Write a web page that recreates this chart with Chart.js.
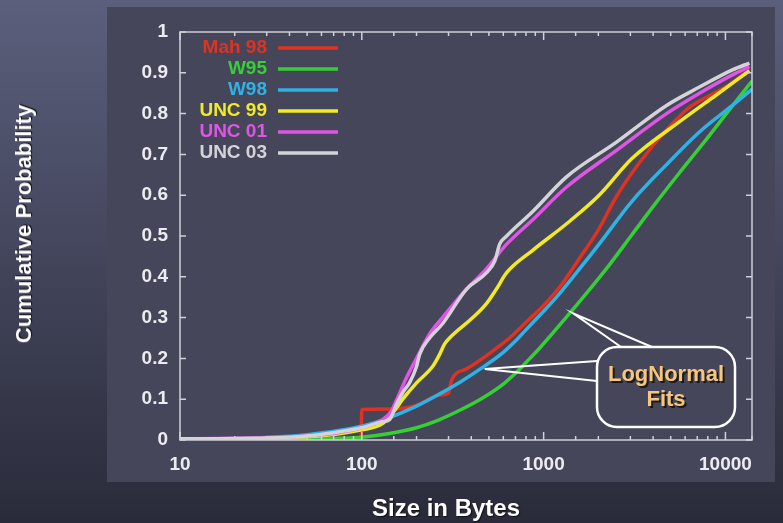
<!DOCTYPE html>
<html>
<head>
<meta charset="utf-8">
<script src="https://cdn.jsdelivr.net/npm/chart.js@4.4.1/dist/chart.umd.min.js"></script>
<style>
  html, body { margin: 0; padding: 0; }
  body {
    width: 783px; height: 523px; overflow: hidden; position: relative;
    background: linear-gradient(#5b5f7c, #2a2b3a);
    font-family: "Liberation Sans", Arial, sans-serif;
  }
  #panel { position: absolute; left: 107px; top: 7px; width: 668px; height: 475px; background: #45465a; }
  #chart { position: absolute; left: 0; top: 0; }
  .title { position: absolute; color: #fff; font-weight: bold; white-space: nowrap; text-shadow: 1px 1px 1px #111; }
  #ytitle { left: 24px; top: 224px; font-size: 22px; transform: translate(-50%, -50%) rotate(-90deg); }
  #xtitle { left: 446px; top: 508px; font-size: 24px; transform: translate(-50%, -50%); }
</style>
</head>
<body>
<div id="panel"></div>
<canvas id="chart" width="783" height="523"></canvas>
<div class="title" id="ytitle">Cumulative Probability</div>
<div class="title" id="xtitle">Size in Bytes</div>
<script>
// series labels and colours (legend order)
const seriesNames = ['Mah 98', 'W95', 'W98', 'UNC 99', 'UNC 01', 'UNC 03'];
const seriesColors = ['#e0321e', '#35d035', '#2fb2e6', '#f2ea22', '#e055e6', '#d4d4d8'];

// file size (bytes) / cumulative probability
const mah98Size = [10, 60, 99, 100, 145, 170, 200, 268, 300, 312, 380, 462, 550, 650, 807, 1000, 1250, 1600, 2000, 2500, 3368, 4742, 6340, 7870, 10000, 13550];
const mah98Prob = [0.002, 0.003, 0.004, 0.075, 0.076, 0.078, 0.085, 0.11, 0.115, 0.147, 0.175, 0.20, 0.225, 0.25, 0.29, 0.33, 0.38, 0.45, 0.515, 0.595, 0.68, 0.76, 0.815, 0.84, 0.865, 0.907];

const w95Size = [10, 50, 76, 100, 142, 200, 268, 350, 462, 600, 709, 800, 950, 1271, 1723, 2306, 3082, 4125, 5590, 7480, 10120, 14000];
const w95Prob = [0.0, 0.001, 0.004, 0.007, 0.016, 0.03, 0.05, 0.074, 0.103, 0.137, 0.166, 0.19, 0.225, 0.29, 0.36, 0.43, 0.505, 0.58, 0.655, 0.725, 0.80, 0.88];

const w98Size = [10, 20, 30, 50, 76, 100, 142, 200, 268, 350, 462, 600, 709, 800, 950, 1178, 1517, 2019, 3060, 4742, 7196, 10920, 14000];
const w98Prob = [0.001, 0.003, 0.006, 0.013, 0.024, 0.034, 0.055, 0.083, 0.113, 0.143, 0.178, 0.215, 0.245, 0.27, 0.305, 0.35, 0.41, 0.48, 0.585, 0.675, 0.755, 0.82, 0.86];

const unc99Size = [10, 50, 100, 130, 150, 168, 200, 245, 268, 285, 304, 408, 486, 550, 626, 871, 1337, 2019, 3060, 5790, 8865, 13550];
const unc99Prob = [0.002, 0.008, 0.025, 0.04, 0.07, 0.10, 0.14, 0.18, 0.21, 0.235, 0.25, 0.30, 0.335, 0.37, 0.41, 0.465, 0.53, 0.60, 0.69, 0.785, 0.845, 0.905];

const unc01Size = [10, 50, 100, 130, 145, 156, 175, 200, 236, 278, 377, 486, 573, 626, 871, 1337, 2516, 4742, 7196, 10920, 13550];
const unc01Prob = [0.003, 0.01, 0.03, 0.05, 0.07, 0.10, 0.15, 0.20, 0.26, 0.30, 0.37, 0.42, 0.46, 0.48, 0.54, 0.62, 0.71, 0.80, 0.85, 0.895, 0.915];

const unc03Size = [10, 30, 50, 70, 100, 130, 142, 156, 170, 183, 200, 208, 236, 278, 377, 486, 540, 573, 626, 871, 1337, 2516, 4742, 7196, 10920, 13550];
const unc03Prob = [0.003, 0.005, 0.01, 0.018, 0.03, 0.045, 0.05, 0.09, 0.12, 0.14, 0.18, 0.21, 0.25, 0.285, 0.37, 0.41, 0.44, 0.48, 0.50, 0.56, 0.645, 0.73, 0.82, 0.865, 0.907, 0.924];

// axis ticks
const xTickValues = [10, 100, 1000, 10000];
const xTickLabels = ['10', '100', '1000', '10000'];
const yTickLabels = ['0', '0.1', '0.2', '0.3', '0.4', '0.5', '0.6', '0.7', '0.8', '0.9', '1'];

// where the "LogNormal Fits" callout points (W98 and W95 curves)
const fitPointers = [{ x: 474, y: 0.174 }, { x: 1462, y: 0.31 }];

const sizes = [mah98Size, w95Size, w98Size, unc99Size, unc01Size, unc03Size];
const probs = [mah98Prob, w95Prob, w98Prob, unc99Prob, unc01Prob, unc03Prob];

const datasets = seriesNames.map((name, i) => ({
  label: name,
  data: sizes[i].map((s, j) => ({ x: s, y: probs[i][j] })),
  borderColor: seriesColors[i],
  borderWidth: 3.5,
  pointRadius: 0,
  fill: false,
  cubicInterpolationMode: 'monotone',
  order: seriesNames.length - i
}));

const tickFont = { family: '"Liberation Sans", Arial, sans-serif', size: 19, weight: 'bold' };

const framePlugin = {
  id: 'frame',
  afterDraw(chart) {
    const { ctx, chartArea: a, scales } = chart;
    ctx.save();
    ctx.strokeStyle = '#cfd0d8';
    ctx.lineWidth = 1.5;
    ctx.strokeRect(a.left, a.top, a.right - a.left, a.bottom - a.top);
    ctx.beginPath();
    scales.y.ticks.forEach(t => {
      const y = scales.y.getPixelForValue(t.value);
      ctx.moveTo(a.left, y); ctx.lineTo(a.left + 6, y);
      ctx.moveTo(a.right, y); ctx.lineTo(a.right - 6, y);
    });
    scales.x.ticks.forEach(t => {
      const x = scales.x.getPixelForValue(t.value);
      const len = xTickValues.includes(t.value) ? 8 : 4;
      ctx.moveTo(x, a.bottom); ctx.lineTo(x, a.bottom - len);
      ctx.moveTo(x, a.top); ctx.lineTo(x, a.top + len);
    });
    ctx.stroke();
    ctx.restore();
  }
};

const legendPlugin = {
  id: 'insideLegend',
  afterDraw(chart) {
    const ctx = chart.ctx;
    ctx.save();
    ctx.font = 'bold 19px "Liberation Sans", Arial, sans-serif';
    ctx.textAlign = 'right';
    ctx.textBaseline = 'middle';
    chart.data.datasets.forEach((ds, i) => {
      const y = 48 + i * 21;
      ctx.fillStyle = ds.borderColor;
      ctx.fillText(ds.label, 267, y);
      ctx.strokeStyle = ds.borderColor;
      ctx.lineWidth = 3.5;
      ctx.beginPath();
      ctx.moveTo(278, y); ctx.lineTo(338, y);
      ctx.stroke();
    });
    ctx.restore();
  }
};

const calloutPlugin = {
  id: 'callout',
  afterDraw(chart) {
    const { ctx, scales } = chart;
    const p = fitPointers.map(f => ({ x: scales.x.getPixelForValue(f.x), y: scales.y.getPixelForValue(f.y) }));
    ctx.save();
    ctx.strokeStyle = '#ffffff';
    ctx.lineWidth = 2;
    ctx.beginPath();
    ctx.moveTo(597, 361); ctx.lineTo(p[0].x, p[0].y); ctx.lineTo(597, 381);
    ctx.moveTo(621, 347); ctx.lineTo(p[1].x, p[1].y); ctx.lineTo(652, 347);
    ctx.stroke();
    ctx.fillStyle = '#45465a';
    ctx.lineWidth = 2.5;
    ctx.beginPath();
    ctx.roundRect(597, 347, 138, 80, 20);
    ctx.fill();
    ctx.stroke();
    ctx.font = 'bold 22px "Liberation Sans", Arial, sans-serif';
    ctx.textAlign = 'center';
    ctx.textBaseline = 'middle';
    ctx.fillStyle = '#1a1a1a';
    ctx.fillText('LogNormal', 668, 377);
    ctx.fillText('Fits', 668, 402);
    ctx.fillStyle = '#f7c67c';
    ctx.fillText('LogNormal', 666, 375);
    ctx.fillText('Fits', 666, 400);
    ctx.restore();
  }
};

new Chart(document.getElementById('chart'), {
  type: 'line',
  data: { datasets },
  options: {
    responsive: false,
    animation: false,
    devicePixelRatio: 1,
    layout: { padding: { left: 107, right: 31, top: 32, bottom: 0 } },
    plugins: { legend: { display: false }, tooltip: { enabled: false } },
    scales: {
      x: {
        type: 'logarithmic',
        min: 10,
        max: 14000,
        afterFit: s => { s.height = 83; },
        grid: { display: false },
        border: { display: false },
        ticks: {
          autoSkip: false,
          maxRotation: 0,
          padding: 5,
          color: '#ececf0',
          font: tickFont,
          callback: v => {
            const k = xTickValues.indexOf(v);
            return k >= 0 ? xTickLabels[k] : '';
          }
        }
      },
      y: {
        min: 0,
        max: 1,
        afterFit: s => { s.width = 73; },
        grid: { display: false },
        border: { display: false },
        ticks: {
          stepSize: 0.1,
          padding: 4,
          color: '#ececf0',
          font: tickFont,
          callback: (v, i) => yTickLabels[i]
        }
      }
    }
  },
  plugins: [framePlugin, legendPlugin, calloutPlugin]
});
</script>
</body>
</html>
